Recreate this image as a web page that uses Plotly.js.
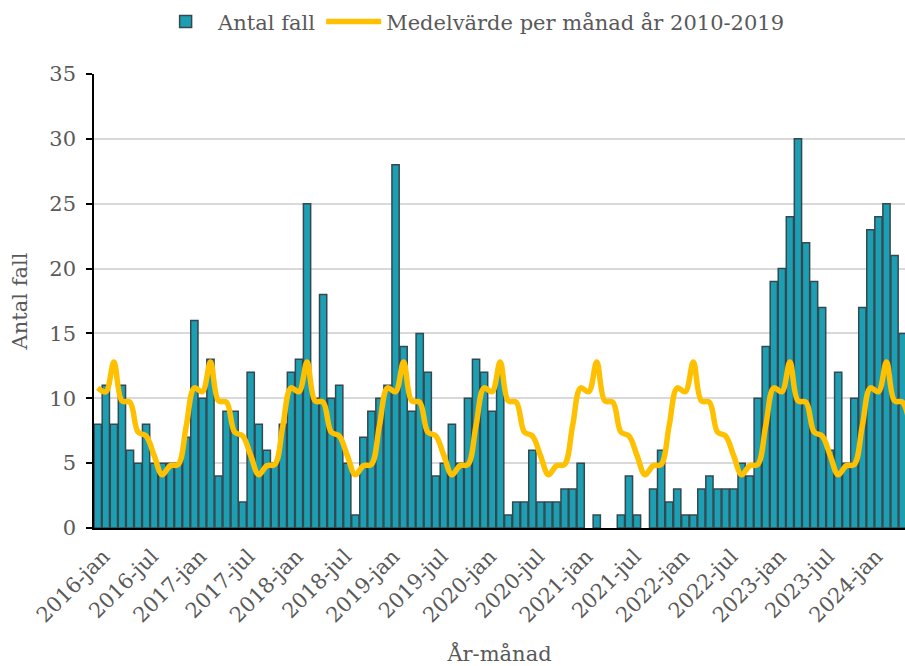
<!DOCTYPE html>
<html>
<head>
<meta charset="utf-8">
<script src="https://cdn.plot.ly/plotly-3.0.1.min.js"></script>
<style>
  html, body { margin: 0; padding: 0; background: #ffffff; }
  #chart { width: 905px; height: 666px; }
</style>
</head>
<body>
<div id="chart"></div>
<script>
// Categories
var years = [2016, 2017, 2018, 2019, 2020, 2021, 2022, 2023, 2024];
var monthNames = ["jan", "feb", "mar", "apr", "maj", "jun", "jul", "aug", "sep", "okt", "nov", "dec"];

// Antal fall per month, 2016-jan .. 2024-maj
var cases2016 = [8, 11, 8, 11, 6, 5, 8, 5, 5, 5, 5, 7];
var cases2017 = [16, 10, 13, 4, 9, 9, 2, 12, 8, 6, 5, 8];
var cases2018 = [12, 13, 25, 10, 18, 10, 11, 5, 1, 7, 9, 10];
var cases2019 = [11, 28, 14, 9, 15, 12, 4, 5, 8, 5, 10, 13];
var cases2020 = [12, 9, 12, 1, 2, 2, 6, 2, 2, 2, 3, 3];
var cases2021 = [5, 0, 1, 0, 0, 1, 4, 1, 0, 3, 6, 2];
var cases2022 = [3, 1, 1, 3, 4, 3, 3, 3, 5, 4, 10, 14];
var cases2023 = [19, 20, 24, 30, 22, 19, 17, 6, 12, 5, 10, 17];
var cases2024 = [23, 24, 25, 21, 15];

// Medelvärde per månad år 2010-2019 (jan..dec)
var monthlyMean = [10.8, 10.5, 12.8, 9.8, 9.7, 7.4, 7.1, 5.6, 4.1, 4.8, 4.9, 7.9];

// Tick labels
var tickLabels = ["2016-jan", "2016-jul", "2017-jan", "2017-jul", "2018-jan", "2018-jul",
  "2019-jan", "2019-jul", "2020-jan", "2020-jul", "2021-jan", "2021-jul", "2022-jan",
  "2022-jul", "2023-jan", "2023-jul", "2024-jan"];

var cases = [].concat(cases2016, cases2017, cases2018, cases2019, cases2020,
  cases2021, cases2022, cases2023, cases2024);

var labels = [];
years.forEach(function (y) {
  monthNames.forEach(function (m) { labels.push(y + "-" + m); });
});
var barX = labels.slice(0, cases.length);
var lineX = labels.slice(0, cases.length + 1);
var lineY = lineX.map(function (_, i) { return monthlyMean[i % 12]; });
var outlineW = cases.map(function (v) { return v === 0 ? 0 : 1.5; });

var FONT = "DejaVu Serif, Georgia, serif";
var GRAY = "#595959";

var traces = [
  {
    type: "bar",
    name: "Antal fall",
    x: barX,
    y: cases,
    marker: { color: "#1c9fb3", line: { color: "#354850", width: outlineW } },
    hoverinfo: "x+y"
  },
  {
    type: "scatter",
    mode: "lines",
    name: "Medelvärde per månad år 2010-2019",
    x: lineX,
    y: lineY,
    line: { color: "#ffc000", width: 5.5, shape: "spline", smoothing: 1 },
    hoverinfo: "x+y"
  }
];

var layout = {
  width: 905,
  height: 666,
  margin: { l: 94, r: 0, t: 74, b: 138 },
  paper_bgcolor: "#ffffff",
  plot_bgcolor: "#ffffff",
  font: { family: FONT, color: GRAY, size: 20 },
  bargap: 0.1,
  showlegend: true,
  legend: {
    orientation: "h",
    x: 0.465, xanchor: "center",
    y: 1.115, yanchor: "middle",
    font: { family: FONT, size: 21, color: GRAY },
    itemwidth: 55,
    traceorder: "normal"
  },
  xaxis: {
    type: "category",
    range: [-0.47, 100.3],
    tickmode: "array",
    tickvals: tickLabels,
    ticktext: tickLabels,
    tickangle: -45,
    tickfont: { family: FONT, size: 21, color: GRAY },
    ticklabelstandoff: 6,
    ticklabelshift: 6,
    showline: true,
    linecolor: "#000000",
    linewidth: 1.5,
    ticks: "",
    showgrid: false,
    automargin: false,
    title: { text: "År-månad", font: { family: FONT, size: 21, color: GRAY }, standoff: 32 }
  },
  yaxis: {
    range: [0, 35],
    dtick: 5,
    tick0: 0,
    ticks: "outside",
    ticklen: 6,
    tickwidth: 1.5,
    tickcolor: "#000000",
    showline: true,
    linecolor: "#000000",
    linewidth: 1.5,
    showgrid: true,
    gridcolor: "#d9d9d9",
    gridwidth: 1.5,
    zeroline: false,
    tickfont: { family: FONT, size: 21, color: GRAY },
    ticklabelstandoff: 6,
    automargin: false,
    title: { text: "Antal fall", font: { family: FONT, size: 21, color: GRAY }, standoff: 16 }
  }
};

Plotly.newPlot("chart", traces, layout, { displayModeBar: false, responsive: false });
</script>
</body>
</html>
